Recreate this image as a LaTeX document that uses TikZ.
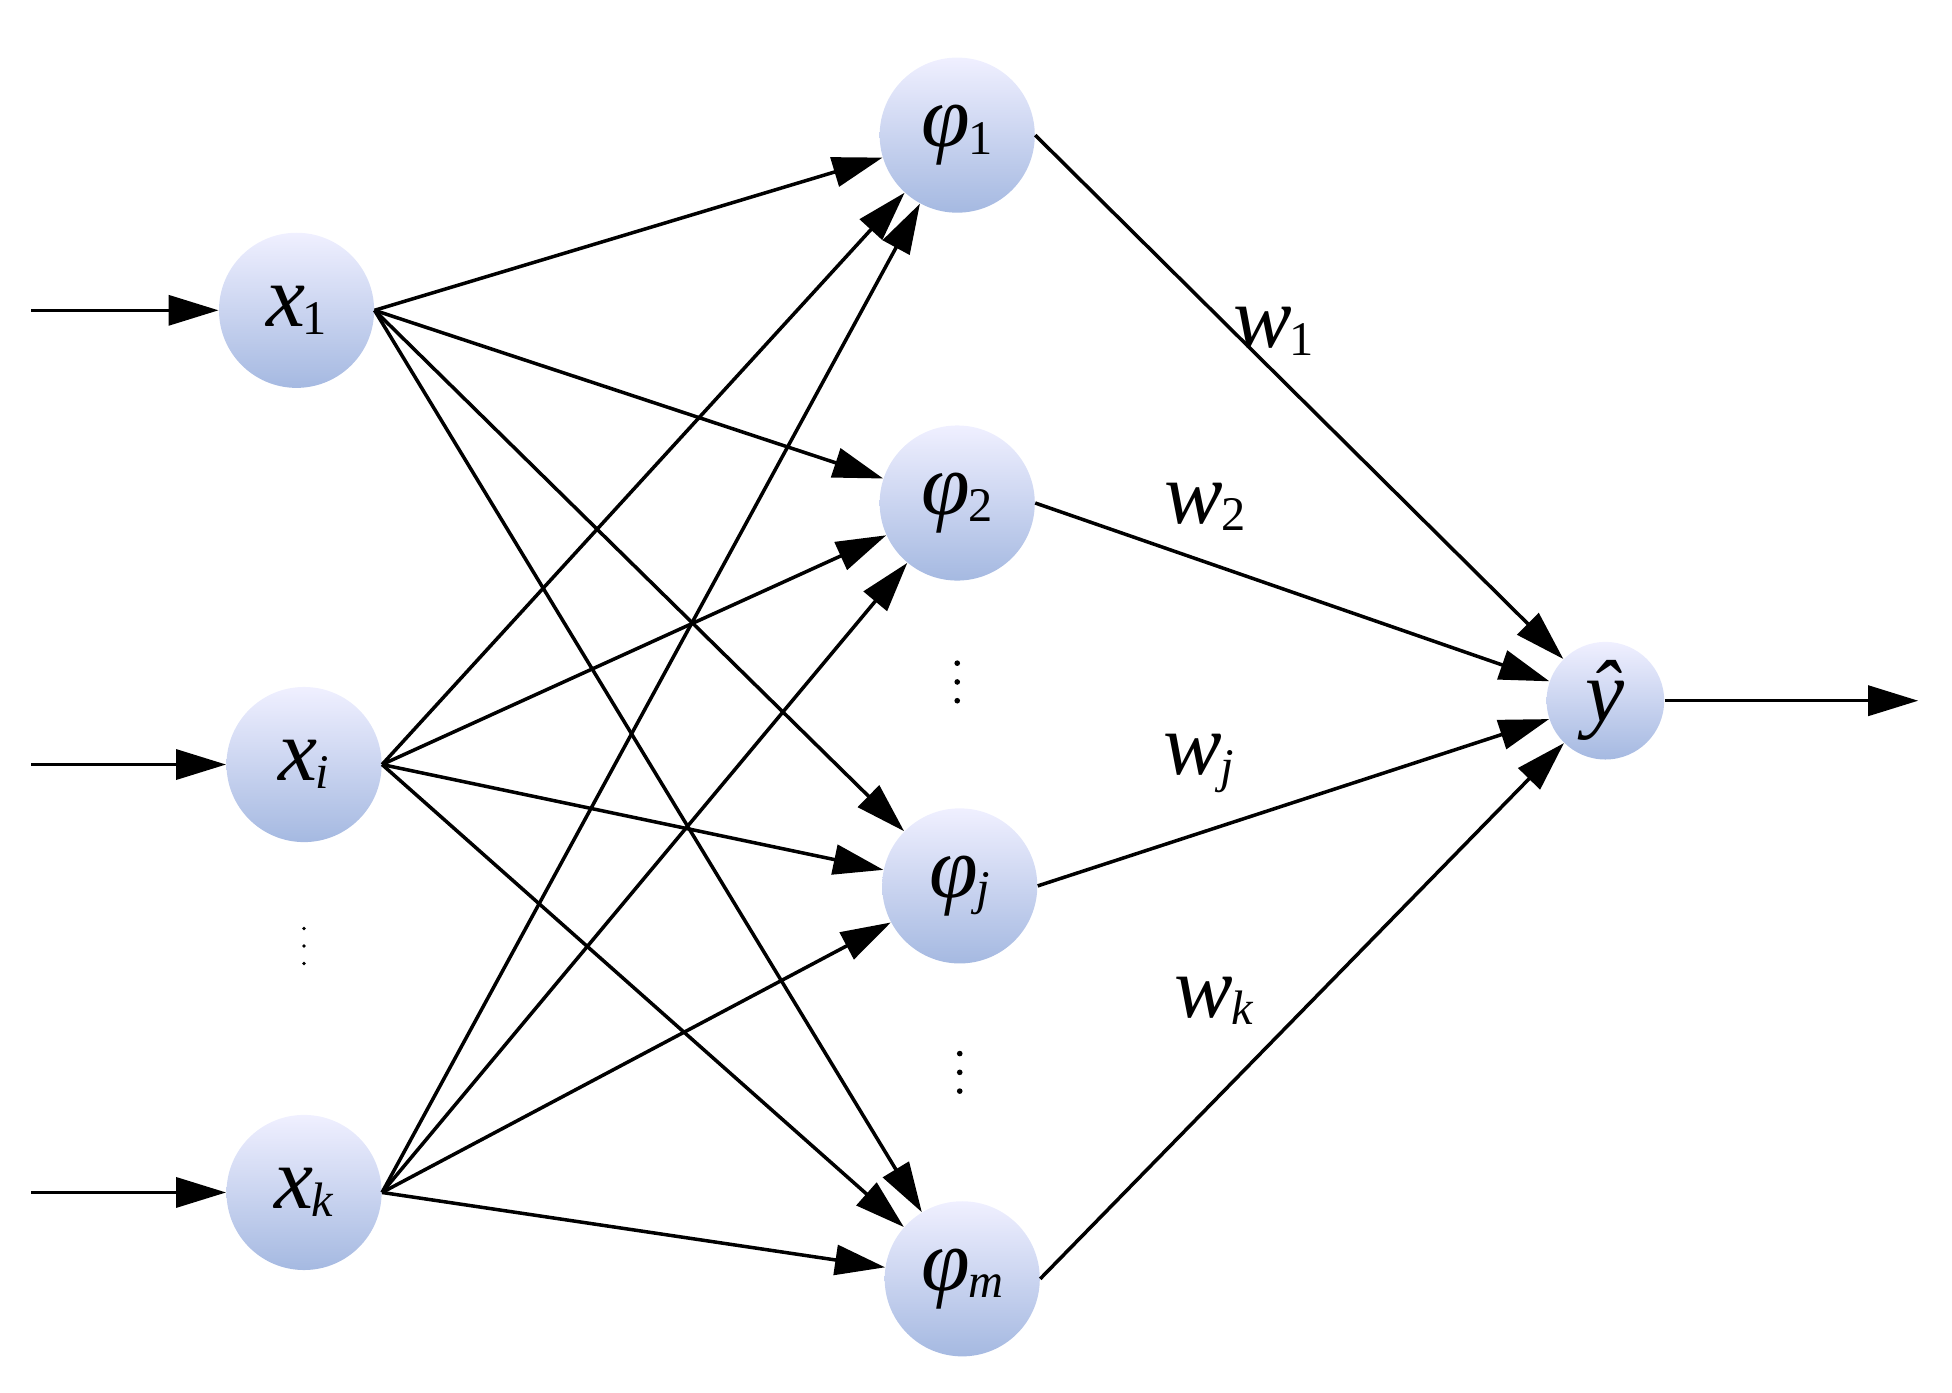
\documentclass[tikz,border=0pt]{standalone}
\usepackage{fontspec}
\setmainfont{Liberation Serif}
\usetikzlibrary{arrows.meta}
\newcommand{\lbl}[3]{{\fontsize{#3}{#3}\selectfont\itshape #1}\kern-1pt\raisebox{-0.75ex}{\fontsize{22}{22}\selectfont #2}}
\begin{document}
\begin{tikzpicture}[x=0.02cm,y=-0.02cm,
  neu/.style={circle,minimum size=2.48cm,inner sep=0pt,top color=blue!6!white,bottom color={rgb,255:red,165;green,185;blue,225},draw=none},
  sm/.style={neu,minimum size=1.88cm},
  ed/.style={line width=1.6pt,-{Triangle[length=0.8cm,width=0.48cm]}},
  dot/.style={circle,fill=black,inner sep=0pt,minimum size=0.09cm}]
\useasboundingbox (0,0) rectangle (1560,1112.5);
\node[neu] (x1) at (237,248) {\lbl{x}{1}{40}};
\node[neu] (xi) at (243,611) {\lbl{x}{\itshape i}{40}};
\node[neu] (xk) at (243,953) {\lbl{x}{\itshape k}{40}};
\node[neu] (p1) at (765,108) {\lbl{φ}{1}{40}};
\node[neu] (p2) at (765,402) {\lbl{φ}{2}{40}};
\node[neu] (pj) at (767,708) {\lbl{φ}{\itshape j}{40}};
\node[neu] (pm) at (769,1022) {\lbl{φ}{\itshape m}{40}};
\node[sm] (y) at (1283,560) {{\fontsize{40}{40}\selectfont\itshape ŷ}};
\coordinate (i1) at (25,248);
\coordinate (i2) at (25,611);
\coordinate (i3) at (25,953);
\coordinate (o) at (1533,560);
\draw[ed] (i1) -- (x1);
\draw[ed] (i2) -- (xi);
\draw[ed] (i3) -- (xk);
\draw[ed] (y) -- (o);
\foreach \s in {x1,xi,xk}
  \foreach \t in {p1,p2,pj,pm}
    \draw[ed] (\s.east) -- (\t);
\foreach \t in {p1,p2,pj,pm}
  \draw[ed] (\t.east) -- (y);
\node at (1018,265) {\lbl{w}{1}{40}};
\node at (963,405) {\lbl{w}{2}{40}};
\node at (958,610) {\lbl{w}{\itshape j}{40}};
\node at (970,800) {\lbl{w}{\itshape k}{40}};
\foreach \yy in {530,545,560} \node[dot] at (765,\yy) {};
\foreach \yy in {742,756,770} \node[dot,minimum size=0.06cm] at (243,\yy) {};
\foreach \yy in {842,857,872} \node[dot] at (767,\yy) {};
\end{tikzpicture}
\end{document}
